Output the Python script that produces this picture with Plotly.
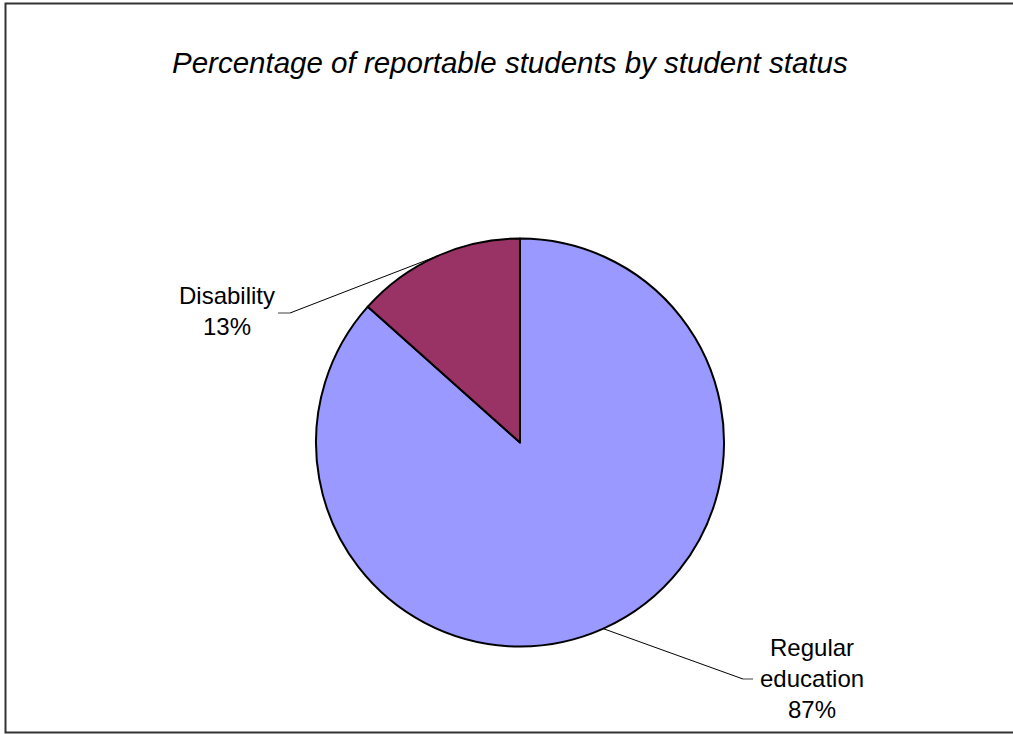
import math
import plotly.graph_objects as go

# Share of reportable students by status (percent)
categories = ["Regular education", "Disability"]
label_lines = [["Regular", "education"], ["Disability"]]
values = [86.6, 13.4]
colors = ["#9999FF", "#993366"]

W, H = 1013, 734
CX, CY, R = 520.0, 442.5, 204.0


def px(x):
    return x / W


def py(y):
    return 1 - y / H


fig = go.Figure(
    go.Pie(
        labels=categories,
        values=values,
        sort=False,
        direction="clockwise",
        rotation=0,
        textinfo="none",
        hoverinfo="label+percent",
        marker=dict(colors=colors, line=dict(color="#000000", width=2)),
        domain=dict(x=[px(CX - R), px(CX + R)], y=[py(CY + R), py(CY - R)]),
        showlegend=False,
    )
)

# Label placement: text anchor, elbow point of leader, and short tick end
label_layout = [
    dict(text_xy=(812, 678), elbow=(743, 679), tick=(753, 679)),
    dict(text_xy=(227, 311), elbow=(290, 313), tick=(278, 313)),
]

total = sum(values)
start = 0.0
shapes = []
annotations = []
for cat, lines, v, lay in zip(categories, label_lines, values, label_layout):
    frac = v / total
    mid = (start + frac / 2) * 2 * math.pi  # clockwise from 12 o'clock
    start += frac
    ex = CX + R * math.sin(mid)
    ey = CY - R * math.cos(mid)
    bx, by = lay["elbow"]
    tx, ty = lay["tick"]
    shapes.append(dict(type="line", xref="paper", yref="paper",
                       x0=px(ex), y0=py(ey), x1=px(bx), y1=py(by),
                       line=dict(color="#000000", width=1)))
    shapes.append(dict(type="line", xref="paper", yref="paper",
                       x0=px(bx), y0=py(by), x1=px(tx), y1=py(ty),
                       line=dict(color="#808080", width=1.5)))
    pct = f"{round(frac * 100):d}%"
    annotations.append(dict(
        text="<br>".join(lines + [pct]),
        x=px(lay["text_xy"][0]), y=py(lay["text_xy"][1]),
        xref="paper", yref="paper", xanchor="center", yanchor="middle",
        showarrow=False, align="center",
        font=dict(family="Liberation Sans, Arial, sans-serif", size=24, color="#000000"),
    ))

# Chart title
annotations.append(dict(
    text="<i>Percentage of reportable students by student status</i>",
    x=px(510), y=py(62), xref="paper", yref="paper",
    xanchor="center", yanchor="middle", showarrow=False,
    font=dict(family="Liberation Sans, Arial, sans-serif", size=29.5, color="#000000"),
))

# Chart-area frame
shapes.append(dict(type="rect", xref="paper", yref="paper",
                   x0=px(5.5), y0=py(732.5), x1=px(1020), y1=py(3.5),
                   line=dict(color="#333333", width=2), fillcolor="rgba(0,0,0,0)"))

fig.update_layout(
    width=W, height=H,
    margin=dict(l=0, r=0, t=0, b=0),
    paper_bgcolor="#FFFFFF",
    plot_bgcolor="#FFFFFF",
    shapes=shapes,
    annotations=annotations,
)

fig.write_html("out.html")
